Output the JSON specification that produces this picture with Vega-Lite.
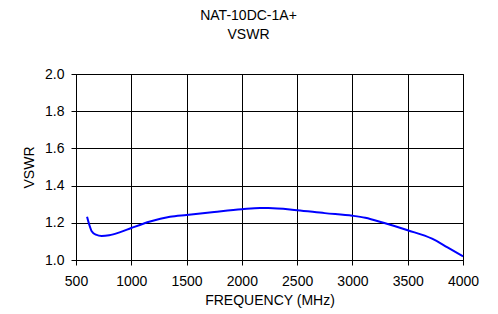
{
  "$schema": "https://vega.github.io/schema/vega-lite/v6.json",
  "width": 387,
  "height": 186,
  "autosize": "none",
  "padding": {"left": 76, "top": 74, "right": 35, "bottom": 54},
  "background": "white",
  "title": {
    "text": ["NAT-10DC-1A+", "VSWR"],
    "font": "Liberation Sans",
    "fontSize": 14,
    "fontWeight": "normal",
    "color": "#000",
    "lineHeight": 19,
    "anchor": "middle",
    "dx": -21,
    "offset": 25
  },
  "config": {
    "view": {"stroke": "#000", "strokeWidth": 1},
    "axis": {
      "labelFont": "Liberation Sans",
      "labelFontSize": 14,
      "labelColor": "#000",
      "titleFont": "Liberation Sans",
      "titleFontSize": 14,
      "titleFontWeight": "normal",
      "titleColor": "#000",
      "domainColor": "#000",
      "tickColor": "#000",
      "gridColor": "#000",
      "gridOpacity": 1,
      "tickSize": 5
    }
  },
  "data": {
    "values": [
      {"f": 600, "v": 1.233},
      {"f": 620, "v": 1.19},
      {"f": 642, "v": 1.155},
      {"f": 680, "v": 1.136},
      {"f": 732, "v": 1.129},
      {"f": 800, "v": 1.133},
      {"f": 900, "v": 1.15},
      {"f": 1000, "v": 1.172},
      {"f": 1170, "v": 1.207},
      {"f": 1350, "v": 1.232},
      {"f": 1500, "v": 1.242},
      {"f": 1750, "v": 1.258},
      {"f": 2000, "v": 1.273},
      {"f": 2165, "v": 1.28},
      {"f": 2240, "v": 1.28},
      {"f": 2500, "v": 1.268},
      {"f": 2750, "v": 1.252},
      {"f": 3000, "v": 1.238},
      {"f": 3116, "v": 1.227},
      {"f": 3281, "v": 1.2},
      {"f": 3500, "v": 1.16},
      {"f": 3720, "v": 1.115},
      {"f": 3860, "v": 1.068},
      {"f": 4000, "v": 1.02}
    ]
  },
  "mark": {"type": "line", "color": "#0000ff", "strokeWidth": 2, "interpolate": "monotone"},
  "encoding": {
    "x": {
      "field": "f",
      "type": "quantitative",
      "scale": {"domain": [500, 4000], "nice": false, "zero": false},
      "axis": {
        "title": "FREQUENCY (MHz)",
        "values": [500, 1000, 1500, 2000, 2500, 3000, 3500, 4000],
        "format": "d",
        "labelPadding": 9,
        "titlePadding": 5,
        "labelFlush": false
      }
    },
    "y": {
      "field": "v",
      "type": "quantitative",
      "scale": {"domain": [1.0, 2.0], "nice": false, "zero": false},
      "axis": {
        "title": "VSWR",
        "values": [1.0, 1.2, 1.4, 1.6, 1.8, 2.0],
        "format": ".1f",
        "labelPadding": 7,
        "titlePadding": 8,
        "labelFlush": false
      }
    }
  }
}
